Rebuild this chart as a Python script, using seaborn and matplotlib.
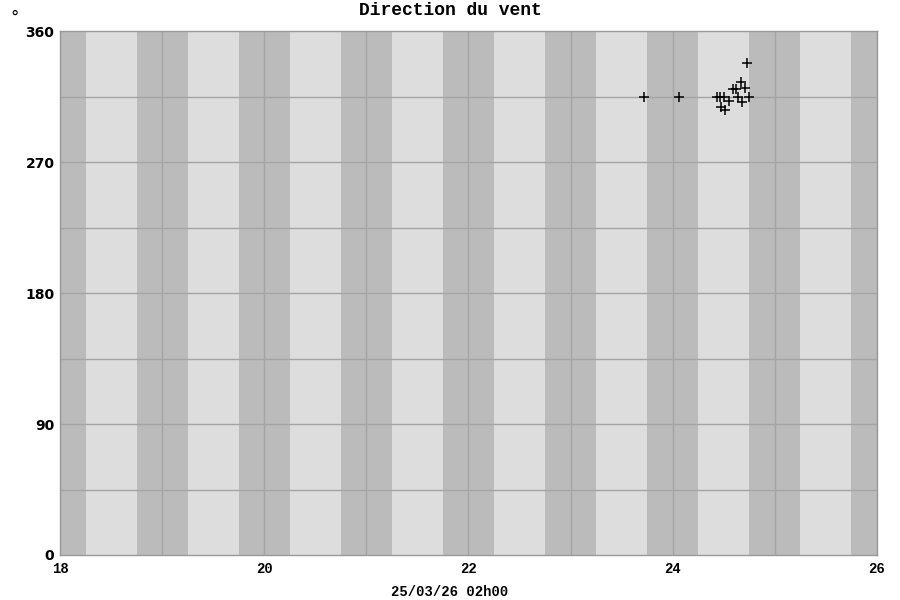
import matplotlib
matplotlib.use("Agg")
import matplotlib.pyplot as plt
import numpy as np
import pandas as pd
import seaborn as sns

# wind direction samples (day of month, degrees)
day = [23.72, 24.06, 24.43, 24.46, 24.50, 24.47, 24.51, 24.55,
       24.59, 24.62, 24.64, 24.67, 24.68, 24.71, 24.73, 24.75]
direction = [315, 315, 315, 315, 315, 308, 306, 312,
             320, 320, 315, 325, 311, 321, 338, 315]
night_centers = [18, 19, 20, 21, 22, 23, 24, 25, 26]
x_ticks = [18, 20, 22, 24, 26]
y_ticks = [0, 90, 180, 270, 360]
title = "Direction du vent"
stamp = "25/03/26 02h00"

df = pd.DataFrame({"day": day, "direction": direction})

sns.set_style("white")
plt.rcParams["text.color"] = "black"
plt.rcParams["xtick.color"] = "black"
plt.rcParams["ytick.color"] = "black"
fig = plt.figure(figsize=(9, 6), dpi=100)
ax = fig.add_axes([0.0667, 0.075, 0.9077, 0.8733])

ax.set_facecolor("#dddddd")
for c in night_centers:
    ax.axvspan(c - 0.25, c + 0.25, color="#bbbbbb", lw=0, zorder=0)

for x in range(18, 27):
    ax.axvline(x, color="#a4a4a4", lw=1, zorder=1)
for y in range(45, 360, 45):
    ax.axhline(y, color="#a4a4a4", lw=1, zorder=1)

sns.scatterplot(data=df, x="day", y="direction", marker="+", color="black",
                s=45, linewidth=1.1, ax=ax, zorder=3)

ax.set_xlim(18, 26)
ax.set_ylim(0, 360)
ax.set_xticks(x_ticks)
ax.set_yticks(y_ticks)
ax.set_xticklabels([str(t) for t in x_ticks], family="Liberation Mono",
                   fontweight="bold", fontsize=10)
ax.set_yticklabels([str(t) for t in y_ticks], family="DejaVu Sans",
                   fontweight="bold", fontsize=10)
ax.tick_params(axis="x", length=0, pad=5, labelcolor="black")
ax.tick_params(axis="y", length=0, pad=4, labelcolor="black")
ax.set_xlabel("")
ax.set_ylabel("")
for sp in ax.spines.values():
    sp.set_color("#999999")
    sp.set_linewidth(1)

fig.text(0.5, 0.983, title, ha="center", va="center", family="Liberation Mono",
         fontweight="bold", fontsize=13, color="black")
fig.text(0.5, 0.013, stamp, ha="center", va="center", family="Liberation Mono",
         fontweight="bold", fontsize=10, color="black")
fig.text(0.016, 0.985, "°", ha="center", va="top", family="DejaVu Sans",
         fontsize=12, color="black")

fig.savefig("out.png", dpi=100)
